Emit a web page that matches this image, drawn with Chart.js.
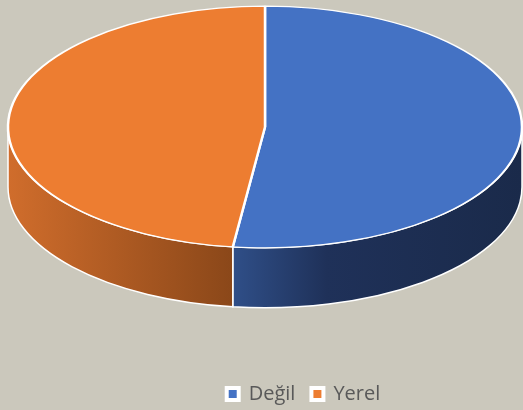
<html>
<head>
<meta charset="UTF-8"/>
<style>
html, body {
 width: 100%;
 height: 100%;
 margin: 0px;
 border: 0;
 overflow: hidden;
 display: block;
 background-color: #cbc8bc;
}
#myChart { display: block; }
</style>
<script src="https://cdn.jsdelivr.net/npm/chart.js@4.4.1/dist/chart.umd.min.js"></script>
<script type="text/javascript">
var labels = ['Değil', 'Yerel'];
var values = [52, 48];
var topColors = ['#4472c4', '#ed7d31'];
// shading of the side wall, [offset across the pie width, colour]
var wallShades = [
    [[0.43, '#30508a'], [0.62, '#1f3159'], [1, '#1a2a4a']],
    [[0, '#d06d2c'], [0.44, '#8a4719']]
];

// fake 3D: draw the front walls, then squash the real pie into an ellipse
var pie3d = {
    id: 'pie3d',
    beforeDatasetsDraw: function(chart, args, opts) {
        var ctx = chart.ctx;
        var arcs = chart.getDatasetMeta(0).data;
        if (!arcs.length) return;
        var rx = arcs[0].outerRadius, ry = rx * opts.tilt;
        var cx = opts.cx, cy = opts.cy, d = opts.depth;
        var TWO_PI = Math.PI * 2;
        arcs.forEach(function(arc, i) {
            var s = arc.startAngle, e = arc.endAngle;
            for (var k = -1; k <= 1; k++) {
                var a1 = Math.max(s, TWO_PI * k), a2 = Math.min(e, TWO_PI * k + Math.PI);
                if (a2 <= a1) continue;
                var g = ctx.createLinearGradient(cx - rx, 0, cx + rx, 0);
                wallShades[i].forEach(function(st) { g.addColorStop(st[0], st[1]); });
                ctx.beginPath();
                ctx.ellipse(cx, cy, rx, ry, 0, a1 - TWO_PI * k, a2 - TWO_PI * k);
                ctx.ellipse(cx, cy + d, rx, ry, 0, a2 - TWO_PI * k, a1 - TWO_PI * k, true);
                ctx.closePath();
                ctx.fillStyle = g;
                ctx.fill();
                ctx.strokeStyle = '#ffffff';
                ctx.lineWidth = 1.5;
                ctx.stroke();
            }
        });
        ctx.save();
        ctx.translate(cx, cy);
        ctx.scale(1, opts.tilt);
        ctx.translate(-arcs[0].x, -arcs[0].y);
    },
    afterDatasetsDraw: function(chart) {
        if (chart.getDatasetMeta(0).data.length) chart.ctx.restore();
    }
};

function init() {
    var ctx = document.getElementById('myChart').getContext('2d');
    new Chart(ctx, {
        type: 'pie',
        plugins: [pie3d],
        data: {
            labels: labels,
            datasets: [{
                data: values,
                backgroundColor: topColors,
                borderColor: '#ffffff',
                borderWidth: 2.5,
                radius: 257,
                clip: false
            }]
        },
        options: {
            responsive: false,
            animation: false,
            layout: { padding: { left: 84, bottom: -4 } },
            plugins: {
                pie3d: { cx: 265, cy: 127, tilt: 0.47, depth: 60 },
                tooltip: { enabled: false },
                legend: {
                    display: true,
                    position: 'bottom',
                    labels: {
                        boxWidth: 12,
                        boxHeight: 12,
                        padding: 16,
                        color: '#595959',
                        font: { family: 'Open Sans', size: 20 },
                        generateLabels: function(chart) {
                            var items = Chart.overrides.doughnut.plugins.legend.labels.generateLabels(chart);
                            items.forEach(function(it) { it.lineWidth = 4; it.strokeStyle = '#ffffff'; });
                            return items;
                        }
                    }
                }
            }
        }
    });
}
</script>
<title>Chart</title>
</head>

<body onload="JavaScript:init();">
<canvas id="myChart" width="523" height="410"></canvas>
</body>
</html>
